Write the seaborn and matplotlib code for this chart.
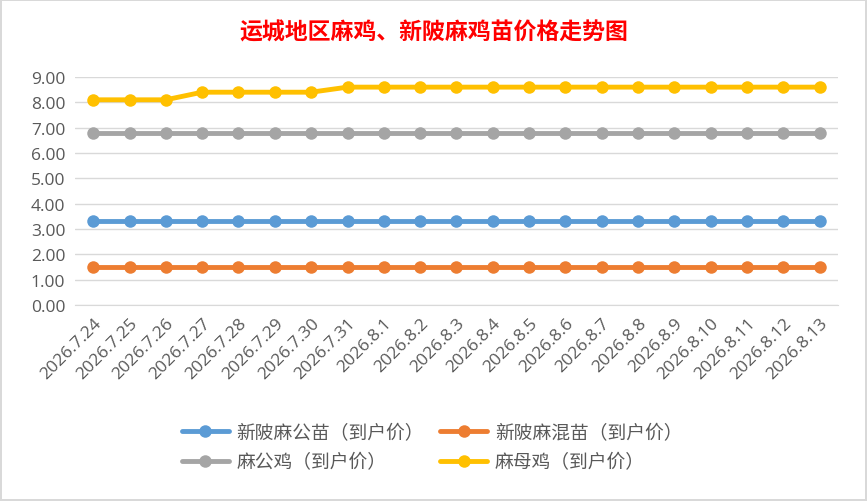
import numpy as np
import pandas as pd
import matplotlib.pyplot as plt
import seaborn as sns
from matplotlib.lines import Line2D

sns.set_style("white")
plt.rcParams['font.family'] = ['Noto Sans CJK SC', 'DejaVu Sans']

# data
dates = ['2026.7.24', '2026.7.25', '2026.7.26', '2026.7.27', '2026.7.28', '2026.7.29',
         '2026.7.30', '2026.7.31', '2026.8.1', '2026.8.2', '2026.8.3', '2026.8.4',
         '2026.8.5', '2026.8.6', '2026.8.7', '2026.8.8', '2026.8.9', '2026.8.10',
         '2026.8.11', '2026.8.12', '2026.8.13']
gong_miao = [3.3] * 21
hun_miao = [1.5] * 21
gong_ji = [6.8] * 21
mu_ji = [8.1, 8.1, 8.1, 8.4, 8.4, 8.4, 8.4] + [8.6] * 14

names = ['新陂麻公苗（到户价）', '新陂麻混苗（到户价）', '麻公鸡（到户价）', '麻母鸡（到户价）']
colors = ['#5B9BD5', '#ED7D31', '#A5A5A5', '#FFC000']

df = pd.DataFrame({
    'date': dates * 4,
    'price': gong_miao + hun_miao + gong_ji + mu_ji,
    'series': np.repeat(names, len(dates)),
})

fig = plt.figure(figsize=(8.67, 5.02), dpi=100)
fig.patch.set_edgecolor('#D9D9D9')
fig.patch.set_linewidth(1.5)
ax = fig.add_axes([75 / 867, 1 - 306 / 502, 763 / 867, 228 / 502])

sns.lineplot(data=df, x='date', y='price', hue='series', palette=colors,
             marker='o', markersize=9, markeredgewidth=0, linewidth=3.5,
             sort=False, legend=False, ax=ax)

ax.set_ylim(0, 9)
ax.set_xlim(-0.5, len(dates) - 0.5)
ax.set_yticks(np.arange(0, 10, 1))
ax.set_yticklabels([f'{v:.2f}' for v in range(10)], fontsize=12.5, color='#595959',
                   family=['Open Sans', 'DejaVu Sans'])
ax.set_xticks(range(len(dates)))
ax.set_xticklabels(dates, rotation=45, ha='right', rotation_mode='anchor', fontsize=12.5,
                   color='#595959', family=['Open Sans', 'DejaVu Sans'])
ax.tick_params(axis='both', length=0, pad=7)
ax.grid(axis='y', color='#D9D9D9', linewidth=1)
ax.set_axisbelow(True)
for s in ['top', 'right', 'left']:
    ax.spines[s].set_visible(False)
ax.spines['bottom'].set_color('#D9D9D9')
ax.set_xlabel('')
ax.set_ylabel('')

fig.text(0.5, 1 - 33 / 502, '运城地区麻鸡、新陂麻鸡苗价格走势图', ha='center', va='center',
         fontsize=16.5, fontweight='bold', color='#FF0000')

# matplotlib fills legend columns first; reorder so rows read like the reference
order = [0, 2, 1, 3]
handles = [Line2D([], [], color=colors[i], linewidth=3.5, marker='o', markersize=9,
                  markeredgewidth=0) for i in order]
fig.legend(handles, [names[i] for i in order], loc='center',
           bbox_to_anchor=(432 / 867, 1 - 448 / 502),
           ncol=2, frameon=False, fontsize=13.5, labelcolor='#595959',
           handlelength=2.5, columnspacing=0.9, handletextpad=0.4, labelspacing=0.45)

fig.savefig('out.png', dpi=100)
